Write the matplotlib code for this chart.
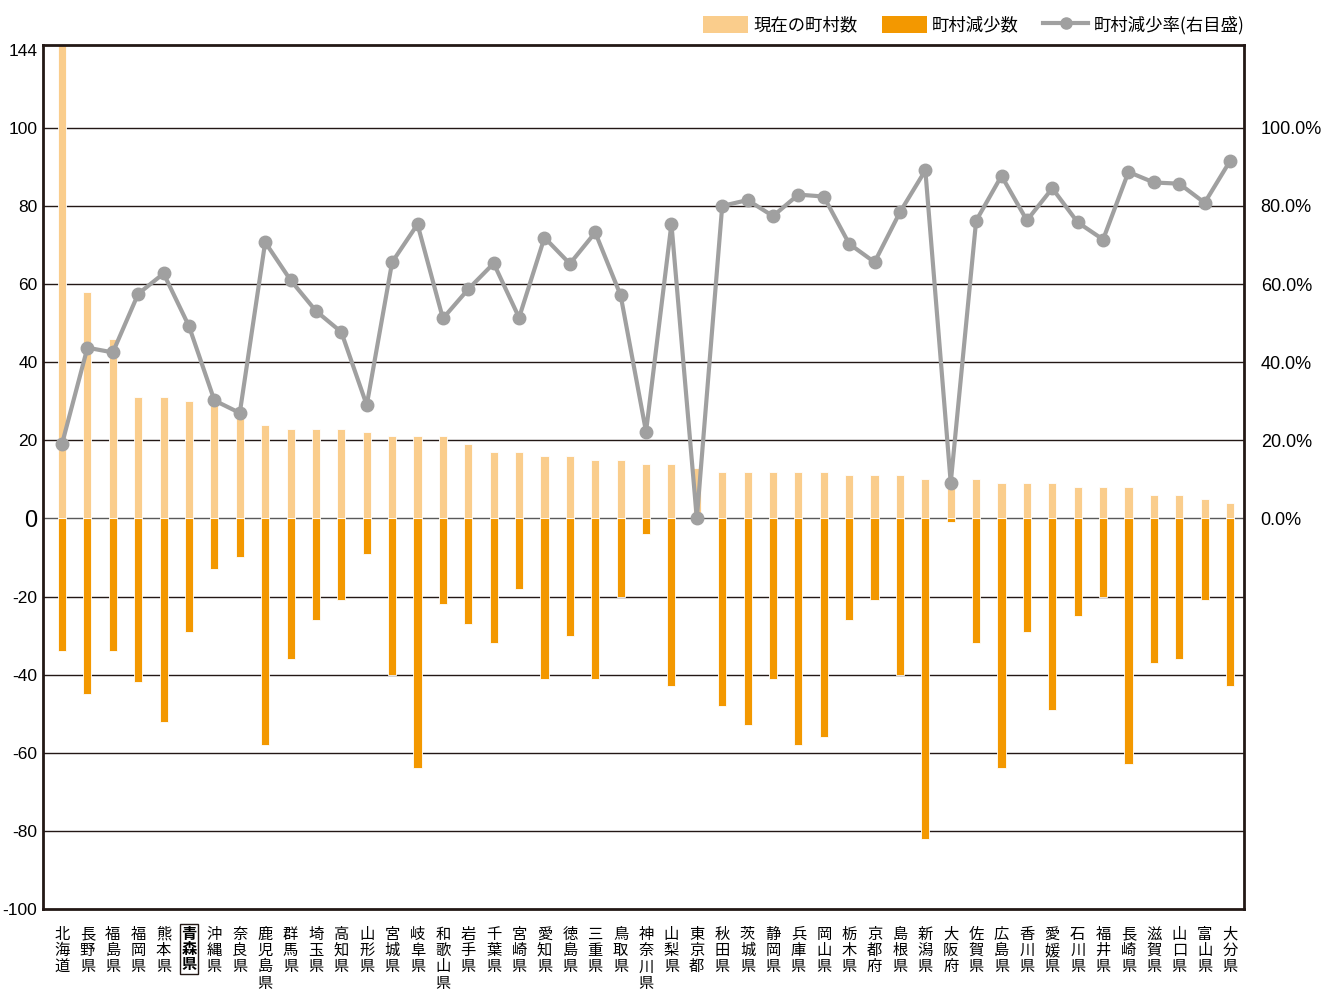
"""
Town/village counts, decreases and decrease rate by prefecture
"""

import matplotlib
matplotlib.use("Agg")
import matplotlib.pyplot as plt
from matplotlib.lines import Line2D
from matplotlib.patches import Patch

JP_FONT = ["Noto Sans CJK JP", "DejaVu Sans"]
NUM_FONT = ["Liberation Sans Narrow", "Liberation Sans", "DejaVu Sans"]

LIGHT = "#FACD8C"
DARK = "#F39800"
GRAY = "#A0A0A0"
INK = "#231815"

prefectures = [
    "北海道", "長野県", "福島県", "福岡県", "熊本県", "青森県", "沖縄県", "奈良県",
    "鹿児島県", "群馬県", "埼玉県", "高知県", "山形県", "宮城県", "岐阜県", "和歌山県",
    "岩手県", "千葉県", "宮崎県", "愛知県", "徳島県", "三重県", "鳥取県", "神奈川県",
    "山梨県", "東京都", "秋田県", "茨城県", "静岡県", "兵庫県", "岡山県", "栃木県",
    "京都府", "島根県", "新潟県", "大阪府", "佐賀県", "広島県", "香川県", "愛媛県",
    "石川県", "福井県", "長崎県", "滋賀県", "山口県", "富山県", "大分県",
]

# current number of towns and villages
current = [
    144, 58, 46, 31, 31, 30, 30, 27, 24, 23, 23, 23, 22, 21, 21, 21,
    19, 17, 17, 16, 16, 15, 15, 14, 14, 13, 12, 12, 12, 12, 12, 11,
    11, 11, 10, 10, 10, 9, 9, 9, 8, 8, 8, 6, 6, 5, 4,
]

# decrease in number of towns and villages
decrease = [
    34, 45, 34, 42, 52, 29, 13, 10, 58, 36, 26, 21, 9, 40, 64, 22,
    27, 32, 18, 41, 30, 41, 20, 4, 43, 0, 48, 53, 41, 58, 56, 26,
    21, 40, 82, 1, 32, 64, 29, 49, 25, 20, 63, 37, 36, 21, 43,
]

# decrease rate (%), right axis
rate = [
    19.1, 43.7, 42.5, 57.5, 62.7, 49.2, 30.2, 27.0, 70.7, 61.0, 53.1, 47.7,
    29.0, 65.6, 75.3, 51.2, 58.7, 65.3, 51.4, 71.9, 65.2, 73.2, 57.1, 22.2,
    75.4, 0.0, 80.0, 81.5, 77.4, 82.9, 82.4, 70.3, 65.6, 78.4, 89.1, 9.1,
    76.2, 87.7, 76.3, 84.5, 75.8, 71.4, 88.7, 86.0, 85.7, 80.8, 91.5,
]

left_ticks = [-100, -80, -60, -40, -20, 0, 20, 40, 60, 80, 100, 120]
left_labels = ["-100", "-80", "-60", "-40", "-20", "0",
               "20", "40", "60", "80", "100", "144"]
right_ticks = [0, 20, 40, 60, 80, 100]

fig = plt.figure(figsize=(13.23, 9.9), dpi=100)
ax = fig.add_axes([43 / 1323, 1 - 909 / 990, (1244 - 43) / 1323, (909 - 45) / 990])

x = list(range(len(prefectures)))
ax.bar(x, current, width=0.32, color=LIGHT, edgecolor="white", linewidth=0.6, zorder=2)
ax.bar(x, [-d for d in decrease], width=0.32, color=DARK, edgecolor="white",
       linewidth=0.6, zorder=2)

ax.set_xlim(-0.75, len(prefectures) - 0.45)
ax.set_ylim(-100, 121.2)

for t in left_ticks[1:-1]:
    ax.axhline(t, color="#5a5a5a" if t == 0 else INK, linewidth=1.0, zorder=1)

ax.set_yticks(left_ticks)
ax.set_yticklabels(left_labels, fontfamily=NUM_FONT, fontsize=12.5)
ax.get_yticklabels()[5].set_fontsize(17)
ax.tick_params(axis="y", length=0, pad=4)

ax.set_xticks(x)
ax.set_xticklabels(["\n".join(p) for p in prefectures], fontfamily=JP_FONT,
                   fontsize=11, va="top", linespacing=0.95)
ax.tick_params(axis="x", length=0, pad=12)
aomori = ax.get_xticklabels()[prefectures.index("青森県")]
aomori.set_fontweight("bold")
aomori.set_bbox(dict(boxstyle="square,pad=0.12", facecolor="white",
                     edgecolor=INK, linewidth=1.0))

for side in ax.spines.values():
    side.set_color(INK)
    side.set_linewidth(2.0)

ax2 = ax.twinx()
ax2.set_ylim(ax.get_ylim())
ax2.plot(x, rate, color=GRAY, linewidth=3, marker="o", markersize=9, zorder=5)
ax2.set_yticks(right_ticks)
ax2.set_yticklabels([f"{t:.1f}%" for t in right_ticks], fontfamily=NUM_FONT, fontsize=13)
ax2.tick_params(axis="y", length=0, pad=12)
for side in ax2.spines.values():
    side.set_visible(False)

handles = [
    Patch(facecolor=LIGHT, edgecolor="none"),
    Patch(facecolor=DARK, edgecolor="none"),
    Line2D([0], [0], color=GRAY, linewidth=3, marker="o", markersize=8),
]
labels = ["現在の町村数", "町村減少数", "町村減少率(右目盛)"]
fig.legend(handles, labels, loc="upper right", bbox_to_anchor=(1260 / 1323, 1.0),
           ncol=3, frameon=False, prop={"family": JP_FONT, "size": 12.5},
           handlelength=2.6, handleheight=1.2, handletextpad=0.3, columnspacing=1.4)

fig.savefig("out.png", dpi=100)
